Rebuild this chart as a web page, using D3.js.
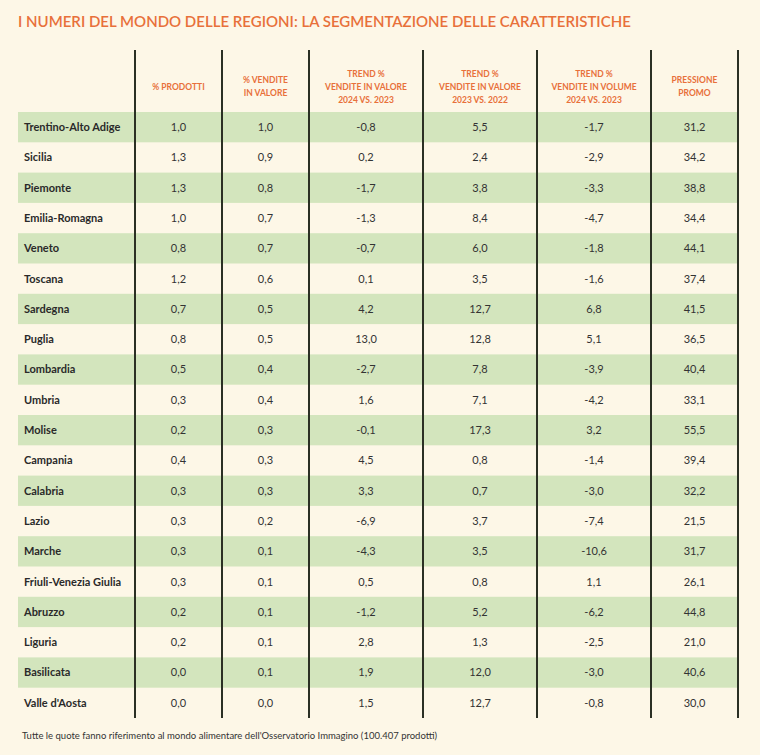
<!DOCTYPE html><html><head><meta charset="utf-8">
<script src="https://cdn.jsdelivr.net/npm/d3@7"></script>
<style>body{margin:0;background:#fdf7e7}</style></head><body>
<script>
const regions=["Trentino-Alto Adige","Sicilia","Piemonte","Emilia-Romagna","Veneto","Toscana","Sardegna","Puglia","Lombardia","Umbria","Molise","Campania","Calabria","Lazio","Marche","Friuli-Venezia Giulia","Abruzzo","Liguria","Basilicata","Valle d'Aosta"];
const headers=[["% PRODOTTI"],["% VENDITE","IN VALORE"],["TREND %","VENDITE  IN VALORE","2024 VS. 2023"],["TREND %","VENDITE IN VALORE","2023 VS. 2022"],["TREND %","VENDITE IN VOLUME","2024 VS. 2023"],["PRESSIONE","PROMO"]];
const prodotti=["1,0","1,3","1,3","1,0","0,8","1,2","0,7","0,8","0,5","0,3","0,2","0,4","0,3","0,3","0,3","0,3","0,2","0,2","0,0","0,0"];
const venditeValore=["1,0","0,9","0,8","0,7","0,7","0,6","0,5","0,5","0,4","0,4","0,3","0,3","0,3","0,2","0,1","0,1","0,1","0,1","0,1","0,0"];
const trend2423=["-0,8","0,2","-1,7","-1,3","-0,7","0,1","4,2","13,0","-2,7","1,6","-0,1","4,5","3,3","-6,9","-4,3","0,5","-1,2","2,8","1,9","1,5"];
const trend2322=["5,5","2,4","3,8","8,4","6,0","3,5","12,7","12,8","7,8","7,1","17,3","0,8","0,7","3,7","3,5","0,8","5,2","1,3","12,0","12,7"];
const trendVol=["-1,7","-2,9","-3,3","-4,7","-1,8","-1,6","6,8","5,1","-3,9","-4,2","3,2","-1,4","-3,0","-7,4","-10,6","1,1","-6,2","-2,5","-3,0","-0,8"];
const promo=["31,2","34,2","38,8","34,4","44,1","37,4","41,5","36,5","40,4","33,1","55,5","39,4","32,2","21,5","31,7","26,1","44,8","21,0","40,6","30,0"];
const cols=[prodotti,venditeValore,trend2423,trend2322,trendVol,promo];
const W=760,H=755;
const svg=d3.select("body").append("svg").attr("width",W).attr("height",H);
svg.append("rect").attr("width",W).attr("height",H).attr("fill","#fdf7e7");
const font="Lato, 'Open Sans', sans-serif";
svg.append("text").attr("x",18).attr("y",27).attr("fill","#e8703a").attr("font-family",font).attr("font-size",15).attr("font-weight",600).text("I NUMERI DEL MONDO DELLE REGIONI: LA SEGMENTAZIONE DELLE CARATTERISTICHE");
const edges=[135,222,309,423,537,651,738];
const y=d3.scaleBand().domain(d3.range(regions.length)).range([112,718]).padding(0);
regions.forEach((r,i)=>{
 if(i%2===0) svg.append("rect").attr("x",18).attr("y",y(i)).attr("width",720).attr("height",y.bandwidth()).attr("fill","#d3e5bd");
 const cy=y(i)+y.bandwidth()/2;
 svg.append("text").attr("x",24).attr("y",cy).attr("dy","0.35em").attr("font-family",font).attr("font-size",11).attr("font-weight",700).attr("fill","#2a2a2a").text(r);
 cols.forEach((c,j)=>{
  svg.append("text").attr("x",(edges[j]+edges[j+1])/2).attr("y",cy).attr("dy","0.35em").attr("text-anchor","middle").attr("font-family",font).attr("font-size",11).attr("fill","#333").text(c[i]);
 });
});
headers.forEach((h,j)=>{
 const cx=(edges[j]+edges[j+1])/2, y0=87-(h.length-1)*6.5;
 h.forEach((l,k)=>svg.append("text").attr("x",cx).attr("y",y0+k*13).attr("dy","0.35em").attr("text-anchor","middle").attr("font-family",font).attr("font-size",8.5).attr("font-weight",700).attr("fill","#e8703a").text(l));
});
edges.forEach(x=>svg.append("line").attr("x1",x).attr("x2",x).attr("y1",50).attr("y2",718).attr("stroke","#2b3024").attr("stroke-width",2));
svg.append("text").attr("x",22).attr("y",739).attr("font-family",font).attr("font-size",9.5).attr("fill","#333").text("Tutte le quote fanno riferimento al mondo alimentare dell'Osservatorio Immagino (100.407 prodotti)");
</script></body></html>
